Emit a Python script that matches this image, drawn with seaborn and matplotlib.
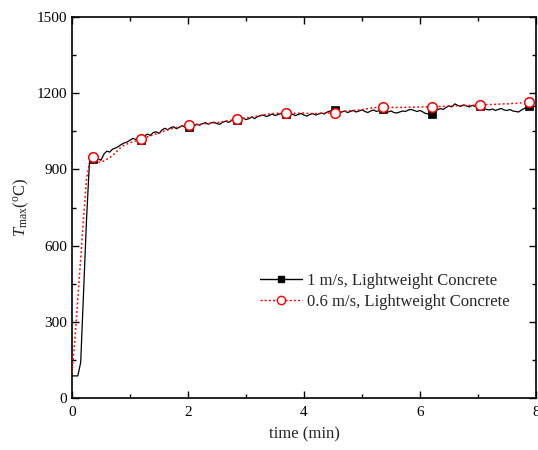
import numpy as np
import pandas as pd
import matplotlib
matplotlib.use("Agg")
import matplotlib.pyplot as plt
from matplotlib.lines import Line2D
from matplotlib.ticker import MultipleLocator
import seaborn as sns

# ---- data ----
dt = 0.05  # sampling step of the curves (min)
t1_values = [
    87, 87, 87, 140, 420, 700, 925, 940, 948, 942,
    936, 960, 972, 968, 980, 984, 990, 998, 1004, 1008,
    1015, 1022, 1018, 1025, 1020, 1032, 1039, 1034, 1045, 1048,
    1042, 1055, 1062, 1056, 1064, 1068, 1060, 1066, 1072, 1066,
    1070, 1076, 1070, 1078, 1074, 1080, 1084, 1078, 1083, 1086,
    1080, 1078, 1086, 1090, 1085, 1092, 1096, 1092, 1098, 1102,
    1096, 1100, 1106, 1100, 1108, 1112, 1114, 1108, 1112, 1118,
    1112, 1116, 1120, 1116, 1120, 1114, 1118, 1112, 1116, 1120,
    1114, 1110, 1116, 1120, 1114, 1118, 1122, 1118, 1126, 1130,
    1134, 1128, 1122, 1126, 1130, 1124, 1128, 1132, 1126, 1130,
    1134, 1128, 1124, 1130, 1134, 1128, 1132, 1136, 1130, 1126,
    1130, 1124, 1122, 1126, 1130, 1128, 1134, 1136, 1132, 1128,
    1132, 1126, 1120, 1118, 1122, 1128, 1134, 1140, 1136, 1144,
    1150, 1146, 1158, 1152, 1148, 1154, 1150, 1146, 1152, 1148,
    1152, 1146, 1140, 1136, 1134, 1138, 1132, 1136, 1140, 1134,
    1132, 1136, 1130, 1128, 1126, 1134, 1140, 1146, 1150, 1146,
    1150,
]
t06_values = [
    100, 230, 390, 550, 710, 860, 925, 942, 936, 930,
    928, 933, 940, 946, 955, 965, 978, 988, 995, 1000,
    1005, 1008, 1012, 1016, 1020, 1024, 1028, 1032, 1036, 1040,
    1043, 1048, 1052, 1056, 1059, 1062, 1065, 1068, 1070, 1072,
    1074, 1075, 1076, 1077, 1078, 1079, 1080, 1081, 1082, 1083,
    1084, 1086, 1088, 1090, 1092, 1094, 1096, 1098, 1100, 1101,
    1102, 1104, 1106, 1108, 1110, 1112, 1114, 1116, 1118, 1120,
    1120, 1121, 1122, 1122, 1122, 1122, 1121, 1121, 1121, 1122,
    1122, 1121, 1120, 1120, 1120, 1120, 1121, 1121, 1122, 1122,
    1122, 1124, 1126, 1127, 1128, 1130, 1131, 1132, 1133, 1134,
    1135, 1137, 1139, 1141, 1143, 1144, 1145, 1146, 1146, 1145,
    1145, 1144, 1144, 1144, 1144, 1144, 1145, 1145, 1145, 1145,
    1146, 1146, 1146, 1146, 1146, 1147, 1147, 1148, 1148, 1149,
    1149, 1150, 1150, 1151, 1151, 1152, 1152, 1152, 1153, 1153,
    1153, 1154, 1154, 1155, 1155, 1156, 1156, 1157, 1157, 1158,
    1158, 1159, 1160, 1160, 1161, 1162, 1162, 1163, 1164, 1164,
    1165,
]
marker_t = [0.36, 1.19, 2.02, 2.84, 3.69, 4.53, 5.36, 6.20, 7.03, 7.88]
marker_1 = [940, 1016, 1068, 1095, 1118, 1134, 1136, 1120, 1150, 1148]
marker_06 = [948, 1020, 1075, 1098, 1122, 1122, 1146, 1146, 1153, 1164]

label_1 = "1 m/s, Lightweight Concrete"
label_06 = "0.6 m/s, Lightweight Concrete"
x_ticks = [0, 2, 4, 6, 8]
y_ticks = [0, 300, 600, 900, 1200, 1500]

df1 = pd.DataFrame({"t": np.arange(len(t1_values)) * dt, "T": t1_values})
df06 = pd.DataFrame({"t": np.arange(len(t06_values)) * dt, "T": t06_values})
mk1 = pd.DataFrame({"t": marker_t, "T": marker_1})
mk06 = pd.DataFrame({"t": marker_t, "T": marker_06})

# ---- style ----
sns.set_style("ticks")
plt.rcParams["font.family"] = ["Liberation Serif", "DejaVu Serif"]
plt.rcParams["mathtext.fontset"] = "custom"
plt.rcParams["mathtext.rm"] = "Liberation Serif"
plt.rcParams["mathtext.it"] = "Liberation Serif:italic"

fig = plt.figure(figsize=(5.38, 4.5), dpi=100)
ax = fig.add_axes([72 / 538, 1 - 398 / 450, 464 / 538, 381 / 450])

sns.lineplot(data=df1, x="t", y="T", ax=ax, color="black", lw=0.9, zorder=2)
sns.lineplot(data=df06, x="t", y="T", ax=ax, color="red", lw=1.1,
             linestyle=(0, (1.2, 1.6)), zorder=3)
sns.scatterplot(data=mk1, x="t", y="T", ax=ax, marker="s", s=26,
                color="black", edgecolor="black", linewidth=0.5, zorder=4)
sns.scatterplot(data=mk06, x="t", y="T", ax=ax, marker="o", s=48,
                facecolor="white", edgecolor="red", linewidth=1.1, zorder=5)

ax.set_xlim(0, 8)
ax.set_ylim(0, 1500)
ax.set_xticks(x_ticks)
ax.set_yticks(y_ticks)
ax.xaxis.set_minor_locator(MultipleLocator(1))
ax.yaxis.set_minor_locator(MultipleLocator(150))
ax.tick_params(which="both", direction="in", top=True, right=True,
               labelsize=11, width=1.0, colors="black")
ax.tick_params(which="major", length=5)
ax.tick_params(which="minor", length=3)
ax.tick_params(axis="x", pad=6)
for sp in ax.spines.values():
    sp.set_linewidth(1.2)
    sp.set_color("black")

ax.set_xlabel("time (min)", fontsize=12, labelpad=5)
ax.set_ylabel(r"$T_{\rm max}(^{\rm o}{\rm C})$", fontsize=12, labelpad=4)

handles = [
    Line2D([], [], color="black", lw=1.0, marker="s", markersize=5),
    Line2D([], [], color="red", lw=1.0, linestyle=(0, (1.5, 1.5)),
           marker="o", markersize=6, markerfacecolor="white",
           markeredgecolor="red"),
]
ax.legend(handles, [label_1, label_06], loc="center left",
          bbox_to_anchor=(0.405, 0.279), frameon=False, fontsize=12,
          borderpad=0, borderaxespad=0, handlelength=2.5,
          handletextpad=0.3, labelspacing=0.3)

fig.savefig("out.png", dpi=100)
